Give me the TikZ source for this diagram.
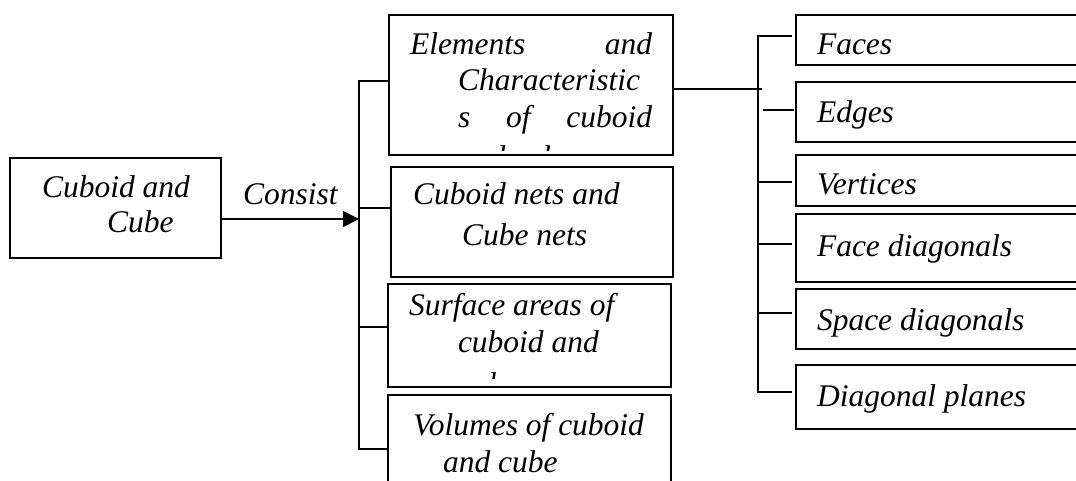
\documentclass[tikz,border=0pt]{standalone}
\usepackage{fontspec}
\setmainfont{Liberation Serif}
\usetikzlibrary{arrows.meta}
\begin{document}
\begin{tikzpicture}[x=1pt,y=-1pt,
 box/.style={draw,line width=1.8pt,rectangle,inner sep=0pt,outer sep=0pt,anchor=north west},
 txt/.style={anchor=base west,inner sep=0pt,outer sep=0pt,font=\fontsize{31.5}{37}\selectfont\itshape},
 conn/.style={line width=1.8pt}]
\clip (0,0) rectangle (1076,481);
% boxes
\node[box,minimum width=211pt,minimum height=100pt] (cc) at (10,158) {};
\node[box,minimum width=284pt,minimum height=140pt] (el) at (389,15) {};
\node[box,minimum width=282pt,minimum height=110pt] (nets) at (391,167) {};
\node[box,minimum width=283pt,minimum height=103pt] (surf) at (388,284) {};
\node[box,minimum width=283pt,minimum height=120pt] (vol) at (388,395) {};
\node[box,minimum width=320pt,minimum height=50pt] (faces) at (796,15) {};
\node[box,minimum width=320pt,minimum height=60pt] (edges) at (796,82) {};
\node[box,minimum width=320pt,minimum height=51pt] (vert) at (796,155) {};
\node[box,minimum width=320pt,minimum height=68pt] (fd) at (796,214) {};
\node[box,minimum width=320pt,minimum height=60pt] (sd) at (796,289) {};
\node[box,minimum width=320pt,minimum height=64pt] (dp) at (796,365) {};
% texts
\node[txt] (t1) at (42,198) {Cuboid and};
\node[txt] (t2) at (107,233) {Cube};
\node[txt] (tcon) at (243,205) {Consist};
\node[txt] (e1) at (410,55) {\hbox to 242pt{Elements\hfill and}};
\node[txt] (e2) at (458,91) {Characteristic};
\node[txt] (e3) at (458,128) {\hbox to 194pt{s\hfill of\hfill cuboid}};
\begin{scope}
\clip (389,15) rectangle (673,151);
\node[txt] (e4) at (458,168) {and cube};
\end{scope}
\node[txt] (n1) at (413,205) {Cuboid nets and};
\node[txt] (n2) at (462,245) {Cube nets};
\node[txt] (s1) at (409,315) {Surface areas of};
\node[txt] (s2) at (458,352) {cuboid and};
\begin{scope}
\clip (388,284) rectangle (671,378);
\node[txt] (s3) at (459,394) {cube};
\end{scope}
\node[txt] (v1) at (413,435) {Volumes of cuboid};
\node[txt] (v2) at (443,472) {and cube};
\node[txt] (r1) at (817,55) {Faces};
\node[txt] (r2) at (817,123) {Edges};
\node[txt] (r3) at (817,195) {Vertices};
\node[txt] (r4) at (817,256) {Face diagonals};
\node[txt] (r5) at (817,330) {Space diagonals};
\node[txt] (r6) at (817,406) {Diagonal planes};
% left bracket
\coordinate (lt) at (359,81);
\coordinate (lb) at (359,449);
\coordinate (l2) at (359,208);
\coordinate (l3) at (359,327);
\coordinate (ah) at (359,219);
\draw[conn] (el.west |- lt) -- (lt) -- (lb) -- (vol.west |- lb);
\draw[conn] (l2) -- (nets.west |- l2);
\draw[conn] (l3) -- (surf.west |- l3);
\draw[conn,-{Triangle[length=16pt,width=16pt]}] (cc.east |- ah) -- (ah);
% right bracket
\coordinate (rt) at (758,36);
\coordinate (rb) at (758,392);
\coordinate (rm) at (762,89);
\coordinate (q2) at (763,110);
\coordinate (q3) at (758,182);
\coordinate (q4) at (758,244);
\coordinate (q5) at (758,313);
\draw[conn] ([xshift=-4pt]faces.west |- rt) -- (rt) -- (rb) -- ([xshift=-4pt]dp.west |- rb);
\draw[conn] (el.east |- rm) -- (rm);
\draw[conn] (q2) -- ([xshift=-2pt]edges.west |- q2);
\draw[conn] (q3) -- ([xshift=-4pt]vert.west |- q3);
\draw[conn] (q4) -- ([xshift=-4pt]fd.west |- q4);
\draw[conn] (q5) -- ([xshift=-4pt]sd.west |- q5);
\end{tikzpicture}
\end{document}
